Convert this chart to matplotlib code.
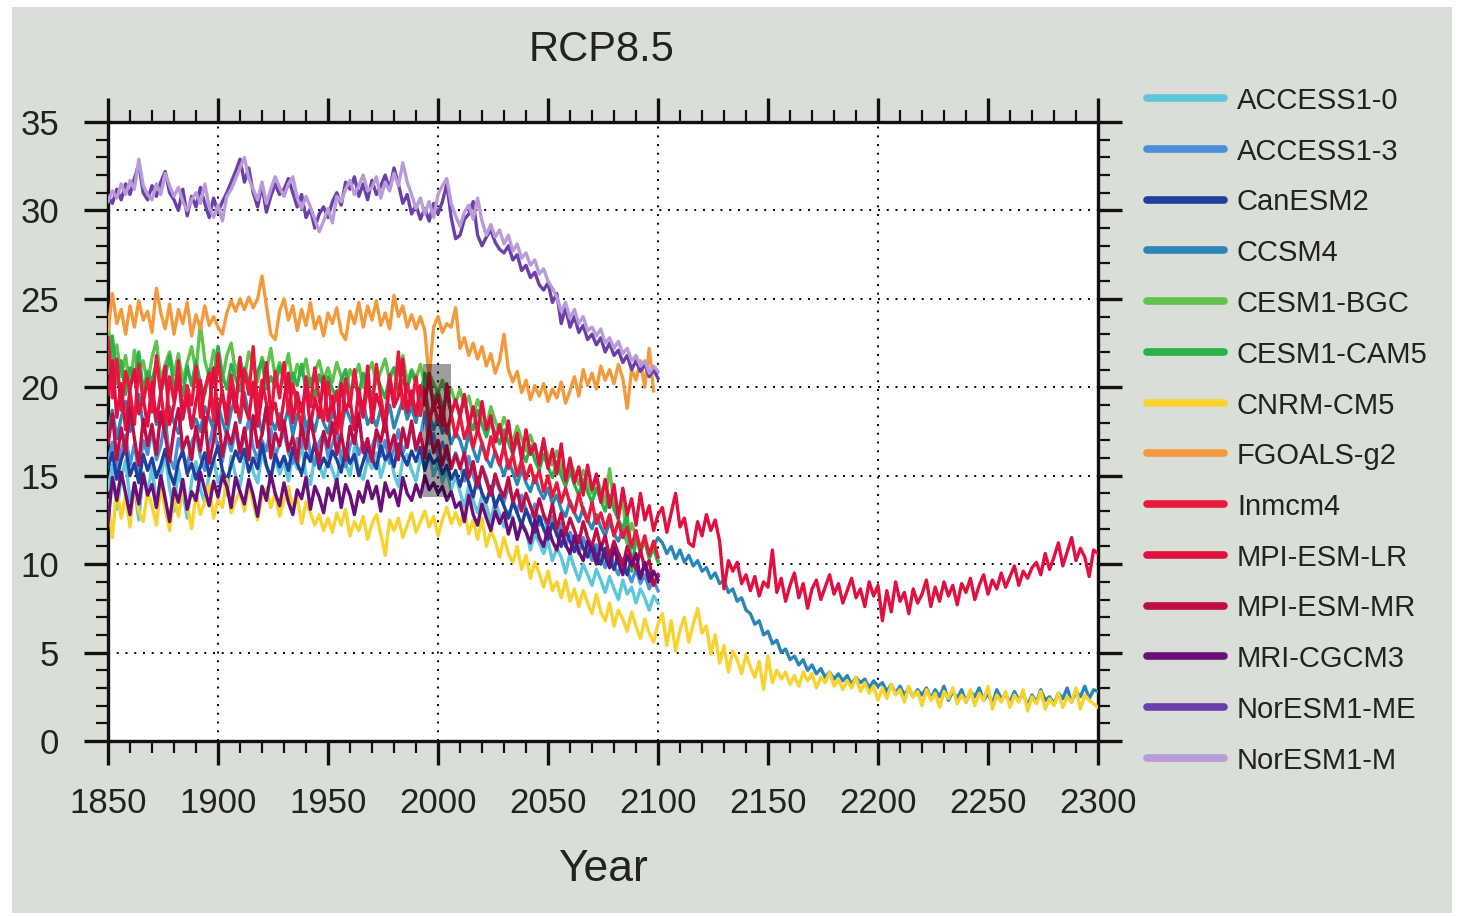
import numpy as np
import matplotlib
matplotlib.use("Agg")
import matplotlib.pyplot as plt
from matplotlib.lines import Line2D
from matplotlib.patches import Rectangle
from matplotlib.ticker import MultipleLocator

plt.rcParams['font.family'] = ['Liberation Sans', 'DejaVu Sans']

# ---------------------------------------------------------------------------
# Data: values every two years, 1850-2100 (126 values); three models extend
# from 2102 to 2300 (100 further values).
# ---------------------------------------------------------------------------
years_hist = np.arange(1850, 2101, 2)
years_ext = np.arange(2102, 2301, 2)

models = ["ACCESS1-0", "ACCESS1-3", "CanESM2", "CCSM4", "CESM1-BGC",
          "CESM1-CAM5", "CNRM-CM5", "FGOALS-g2", "Inmcm4", "MPI-ESM-LR",
          "MPI-ESM-MR", "MRI-CGCM3", "NorESM1-ME", "NorESM1-M"]

colors = ["#5ec6db", "#4a8fd8", "#1f3f9c", "#2b86b8", "#5fc24c",
          "#2bb04a", "#f8d22f", "#f29a3c", "#e8193d", "#e01040",
          "#bf0d46", "#6a0f7a", "#6b3fa9", "#b89bd8"]

access1_0 = [
    14.2, 15.6, 13.1, 14.8, 15.9, 13.6, 14.4, 12.5, 15.2, 14.0,
    15.5, 13.4, 14.9, 16.2, 14.3, 13.0, 15.4, 14.1, 12.6, 14.7,
    15.8, 14.2, 13.5, 15.1, 16.0, 14.6, 15.3, 13.9, 16.1, 15.0,
    14.4, 15.9, 16.6, 15.2, 14.6, 16.3, 15.5, 14.8, 16.0, 15.1,
    15.8, 14.7, 16.2, 15.4, 16.8, 15.0, 14.5, 16.1, 15.6, 14.9,
    16.0, 15.3, 14.6, 16.4, 15.7, 15.0, 16.6, 15.2, 14.8, 15.9,
    15.4, 16.3, 14.9, 15.8, 16.5, 15.1, 14.4, 15.9, 16.2, 15.3,
    14.7, 16.0, 15.5, 16.4, 15.0, 15.8, 14.6, 15.3, 14.2, 15.0,
    14.1, 13.2, 14.5, 13.6, 12.9, 13.9, 13.3, 12.4, 13.6, 12.8,
    12.1, 13.0, 12.6, 11.5, 12.4, 11.9, 10.8, 11.7, 11.2, 10.6,
    11.3, 10.2, 10.9, 10.4, 9.5, 10.6, 9.8, 9.1, 10.0, 9.4,
    8.8, 9.7, 9.1, 8.4, 9.3, 8.6, 8.0, 9.1, 8.3, 8.7,
    7.8, 8.6, 8.1, 7.4, 8.2, 7.8]

access1_3 = [
    15.8, 16.9, 15.2, 16.4, 17.3, 15.6, 16.8, 15.1, 17.0, 16.2,
    17.6, 15.9, 16.7, 18.2, 16.0, 15.4, 17.1, 16.3, 15.5, 16.9,
    17.4, 16.1, 15.3, 16.8, 17.8, 16.5, 15.8, 17.2, 16.4, 17.6,
    16.2, 17.3, 18.1, 16.6, 15.9, 17.0, 16.4, 17.7, 16.1, 16.8,
    17.5, 16.3, 15.7, 17.1, 16.6, 17.9, 16.2, 15.6, 16.9, 17.4,
    16.1, 16.8, 17.5, 16.0, 15.5, 16.7, 17.3, 16.2, 16.9, 15.8,
    16.6, 17.4, 16.1, 17.0, 15.7, 16.5, 17.6, 16.3, 16.9, 17.8,
    16.4, 17.2, 18.6, 16.8, 17.4, 16.1, 16.9, 16.0, 15.6, 16.3,
    15.6, 14.7, 16.1, 15.0, 14.3, 15.5, 14.9, 13.9, 14.8, 14.2,
    13.5, 14.4, 13.7, 12.9, 13.9, 13.1, 12.5, 13.4, 12.2, 12.8,
    11.9, 12.7, 11.6, 12.3, 11.0, 11.8, 11.3, 10.6, 11.5, 10.9,
    10.2, 11.1, 10.5, 9.8, 10.7, 9.9, 9.4, 10.3, 9.6, 9.0,
    9.7, 8.9, 9.4, 8.6, 9.1, 8.5]

canesm2 = [
    15.4, 16.3, 14.8, 15.9, 16.6, 15.0, 15.7, 14.6, 16.2, 15.3,
    16.0, 14.9, 15.6, 16.5, 15.2, 14.5, 15.8, 16.4, 15.1, 15.7,
    14.8, 15.5, 16.3, 15.0, 15.9, 16.7, 15.3, 14.7, 15.6, 16.4,
    15.8, 16.5, 15.2, 16.0, 15.4, 16.8, 15.6, 14.9, 16.2, 15.5,
    16.1, 15.3, 16.6, 15.7, 15.1, 16.3, 15.8, 16.9, 15.4, 16.0,
    15.5, 16.4, 15.9, 15.2, 16.5, 15.7, 16.2, 15.0, 15.8, 16.6,
    16.0, 15.4, 16.7, 15.9, 16.3, 15.5, 16.8, 16.1, 15.6, 16.4,
    15.8, 16.6, 15.3, 16.2, 15.7, 16.0, 15.1, 15.6, 14.8, 15.3,
    14.4, 15.3, 14.6, 13.8, 14.9, 14.0, 13.5, 14.4, 13.2, 13.9,
    13.3, 12.6, 13.5, 12.9, 12.2, 13.1, 12.4, 11.8, 12.7, 12.0,
    11.4, 12.3, 11.7, 11.0, 11.9, 11.3, 10.7, 11.6, 10.9, 10.4,
    11.2, 10.5, 10.0, 10.9, 10.2, 9.7, 10.6, 10.0, 9.4, 10.3,
    9.8, 9.2, 10.0, 9.4, 8.9, 9.3]

ccsm4 = [
    17.6, 18.7, 17.1, 18.3, 19.2, 17.5, 18.4, 19.6, 17.8, 18.1,
    19.5, 17.9, 18.6, 17.2, 18.9, 18.0, 17.4, 18.8, 19.3, 17.7,
    18.2, 17.5, 18.9, 18.3, 17.6, 19.0, 18.1, 17.3, 18.7, 19.4,
    18.0, 19.7, 18.4, 17.8, 18.6, 17.4, 18.9, 18.2, 17.6, 18.5,
    17.9, 18.8, 17.3, 18.4, 19.1, 17.8, 18.3, 17.5, 18.7, 18.0,
    17.4, 18.6, 18.1, 17.7, 18.9, 18.2, 17.6, 18.5, 19.2, 17.9,
    18.4, 17.8, 18.8, 18.1, 19.0, 17.7, 18.5, 19.3, 18.2, 18.9,
    18.0, 19.4, 19.9, 18.5, 17.6, 18.3, 17.4, 17.9, 16.8, 17.5,
    17.0, 16.2, 17.4, 16.5, 15.8, 16.9, 16.0, 15.5, 16.4, 15.7,
    15.0, 15.9, 15.2, 14.5, 15.4, 14.6, 14.1, 15.0, 14.2, 13.7,
    14.3, 13.4, 13.9, 13.1, 12.7, 13.6, 12.9, 12.4, 13.2, 12.5,
    12.0, 12.8, 12.1, 11.6, 12.4, 11.7, 11.3, 12.0, 11.2, 10.9,
    11.6, 10.8, 11.3, 10.5, 11.0, 11.5]

ccsm4_ext = [
    11.2, 10.6, 11.0, 10.3, 10.8, 10.1, 10.5, 9.9, 10.2, 9.6,
    9.8, 9.2, 9.5, 8.9, 9.1, 8.4, 8.6, 7.9, 8.1, 7.4,
    7.2, 6.6, 6.8, 6.0, 6.2, 5.5, 5.7, 5.0, 5.2, 4.6,
    4.8, 4.3, 4.6, 4.0, 4.3, 3.8, 4.1, 3.6, 3.9, 3.5,
    3.8, 3.4, 3.7, 3.2, 3.6, 3.3, 3.5, 3.0, 3.4, 3.1,
    3.3, 2.8, 3.2, 2.7, 3.1, 2.6, 3.0, 2.5, 2.9, 2.6,
    3.0, 2.4, 2.9, 2.5, 3.1, 2.3, 2.8, 2.4, 2.9, 2.2,
    2.8, 2.5, 3.0, 2.3, 2.7, 2.1, 2.9, 2.4, 2.6, 2.2,
    2.8, 2.3, 2.7, 2.0, 2.6, 2.2, 2.9, 2.3, 2.5, 2.1,
    2.7, 2.4, 3.0, 2.2, 2.8, 2.5, 3.1, 2.4, 2.9, 2.8]

cesm1_bgc = [
    23.5, 21.2, 22.4, 20.6, 21.8, 19.9, 22.1, 20.8, 21.5, 20.2,
    21.7, 22.6, 20.4, 21.3, 22.0, 20.7, 21.9, 20.3, 21.4, 22.3,
    20.9, 23.6, 21.5, 20.6, 22.1, 21.0, 20.4, 21.8, 22.5, 20.8,
    21.6, 20.5, 22.0, 21.2, 20.3, 21.7, 20.9, 22.2, 20.6, 21.4,
    20.8, 21.9, 20.2, 21.3, 20.7, 21.6, 20.1, 20.9, 21.5, 20.4,
    21.1, 20.3, 21.4, 20.6, 19.8, 21.0, 20.5, 21.3, 20.0, 20.8,
    21.4, 20.2, 20.9, 21.6, 20.4, 21.1, 20.7, 21.8, 20.3, 21.0,
    20.5, 21.3, 20.1, 20.8, 20.2, 19.7, 20.4, 19.5, 19.9, 19.1,
    19.9, 18.9, 19.5, 18.4, 19.3, 18.6, 17.8, 18.9, 18.1, 17.4,
    18.3, 17.6, 16.9, 17.8, 17.1, 16.4, 17.3, 16.5, 16.0, 16.9,
    16.1, 15.6, 16.4, 15.5, 14.9, 15.8, 15.2, 14.5, 15.3, 14.6,
    14.0, 14.9, 14.2, 13.5, 15.4, 13.4, 12.8, 13.7, 11.2, 12.3,
    11.6, 10.6, 11.4, 10.3, 10.9, 10.1]

cesm1_cam5 = [
    20.8, 22.9, 20.2, 21.5, 19.6, 21.1, 20.4, 22.0, 19.8, 20.9,
    20.3, 21.4, 19.7, 20.6, 21.8, 20.0, 20.7, 19.5, 21.2, 20.1,
    21.5, 20.2, 19.6, 21.0, 20.4, 22.3, 20.7, 19.9, 21.3, 20.5,
    19.8, 21.1, 20.3, 19.6, 20.9, 21.5, 19.9, 20.6, 20.0, 21.2,
    20.4, 19.7, 20.8, 20.1, 21.3, 19.8, 20.5, 19.4, 20.7, 20.0,
    20.6, 19.9, 19.3, 20.4, 21.0, 19.7, 20.3, 19.6, 20.8, 20.1,
    19.5, 20.7, 20.0, 19.4, 20.6, 21.1, 19.8, 20.4, 19.9, 20.9,
    20.2, 19.6, 20.8, 20.0, 19.3, 19.8, 18.9, 19.4, 18.6, 19.1,
    18.5, 19.3, 18.2, 17.6, 18.7, 17.9, 17.2, 18.1, 17.4, 16.8,
    17.6, 16.9, 16.2, 17.1, 16.4, 15.8, 16.7, 15.9, 15.3, 16.2,
    15.5, 14.9, 15.8, 15.0, 14.4, 15.3, 14.5, 13.9, 14.8, 14.1,
    13.5, 14.3, 13.6, 13.0, 13.9, 13.1, 12.5, 12.0, 12.8, 9.6,
    11.5, 10.8, 11.3, 10.4, 10.9, 10.2]

cnrm_cm5 = [
    13.6, 11.5, 14.3, 12.6, 13.9, 12.1, 14.6, 13.0, 12.4, 14.1,
    13.3, 12.2, 14.4, 13.1, 11.9, 13.8, 12.7, 14.2, 13.4, 12.0,
    14.0, 12.8, 13.5, 14.5, 12.6, 13.7, 13.2, 14.8, 12.9, 13.6,
    14.1, 13.0, 14.6, 13.4, 12.5, 13.9, 14.3, 13.2, 14.0, 12.7,
    13.6, 14.4, 13.1, 13.8, 12.3, 13.5, 12.9, 12.2, 12.8, 11.9,
    12.6, 11.8, 12.9, 12.2, 13.1, 11.6, 12.4, 11.9, 12.7, 11.4,
    12.3, 12.8, 11.7, 10.5, 12.5, 11.9, 12.6, 11.5, 12.2, 12.9,
    11.8, 12.4, 13.0, 12.1, 12.7, 11.6, 12.5, 13.2, 12.3, 12.9,
    12.2, 13.1, 11.7, 12.5, 11.4, 12.6, 11.0, 11.9, 11.3, 10.4,
    11.5, 10.6, 10.1, 11.0, 9.7, 10.5, 9.2, 10.1, 9.5, 8.7,
    9.6, 8.5, 9.0, 8.1, 9.1, 7.9, 8.6, 7.6, 8.5, 7.8,
    7.2, 8.3, 7.3, 6.8, 7.8, 6.5, 7.4, 6.9, 6.2, 7.3,
    6.5, 5.8, 6.9, 6.1, 5.6, 6.6]

cnrm_cm5_ext = [
    7.2, 5.4, 6.8, 5.1, 6.3, 7.0, 5.6, 6.6, 7.5, 6.1,
    6.5, 4.9, 6.0, 4.4, 5.4, 3.9, 5.1, 4.6, 3.8, 4.9,
    4.2, 3.6, 4.5, 2.9, 4.8, 3.3, 4.0, 3.5, 3.9, 3.2,
    3.7, 3.1, 3.9, 3.4, 3.8, 3.0, 3.6, 3.3, 3.9, 3.1,
    3.5, 2.9, 3.4, 3.0, 3.6, 2.8, 3.3, 2.7, 3.1, 2.3,
    3.0, 2.4, 3.2, 2.6, 2.9, 2.2, 3.1, 2.5, 2.8, 2.0,
    2.9, 2.3, 2.7, 1.9, 2.8, 2.4, 3.0, 2.1, 2.6, 2.2,
    2.9, 2.0, 2.7, 2.3, 3.1, 1.8, 2.6, 2.2, 2.8, 1.9,
    2.6, 2.2, 2.9, 1.7, 2.5, 2.1, 2.8, 1.8, 2.4, 2.0,
    2.7, 1.9, 2.5, 2.2, 3.0, 1.8, 2.6, 2.3, 2.1, 1.9]

fgoals_g2 = [
    23.2, 25.3, 23.6, 24.4, 23.0, 24.6, 23.4, 24.9, 23.8, 24.3,
    23.1, 25.6, 24.2, 23.3, 24.7, 23.0, 24.4, 23.6, 24.8, 22.9,
    24.1, 23.3, 24.6, 23.5, 24.0, 23.4, 23.0, 24.2, 24.9, 24.3,
    25.0, 24.4, 25.1, 24.5, 25.0, 26.3, 24.6, 23.0, 22.7, 24.3,
    25.0, 23.8, 24.6, 23.2, 24.4, 23.5, 24.8, 23.3, 24.0, 22.9,
    24.2, 23.6, 24.5, 23.1, 22.7, 24.3, 23.6, 24.8, 23.4, 24.6,
    23.8, 24.9, 23.5, 24.2, 23.3, 25.2, 24.0, 24.6, 23.4, 24.1,
    23.3, 24.0, 23.2, 20.5, 23.4, 24.0, 23.1, 23.6, 23.4, 24.5,
    22.2, 22.8, 21.8, 22.5, 21.6, 22.3, 21.2, 21.9, 20.8, 21.5,
    23.0, 21.0, 20.3, 20.9, 19.7, 20.4, 19.3, 20.1, 19.5, 20.2,
    19.2, 19.9, 19.4, 20.3, 19.1, 19.8, 20.6, 19.5, 21.0, 20.1,
    20.8, 19.9, 21.2, 20.4, 21.0, 20.2, 21.3, 20.5, 18.8, 21.0,
    20.4, 21.5, 20.0, 22.2, 19.8, np.nan]

inmcm4 = [
    22.8, 19.4, 21.6, 18.7, 20.9, 19.8, 17.9, 21.3, 19.1, 20.5,
    18.6, 21.8, 19.7, 17.8, 20.6, 19.2, 21.5, 18.4, 20.1, 19.0,
    21.2, 18.3, 19.9, 20.8, 18.1, 21.9, 19.5, 18.6, 20.7, 19.3,
    18.2, 21.0, 19.6, 22.3, 18.8, 20.4, 19.1, 17.9, 20.9, 19.4,
    21.4, 18.5, 20.2, 19.0, 17.6, 20.6, 18.9, 21.1, 19.3, 18.1,
    20.3, 18.7, 19.8, 17.5, 20.5, 18.9, 21.0, 19.2, 18.3, 20.1,
    18.6, 21.3, 19.4, 18.0, 20.7, 19.1, 22.0, 18.8, 20.2, 19.0,
    20.6, 18.4, 19.8, 17.9, 19.2, 18.0, 18.9, 17.4, 18.5, 17.2,
    18.4, 17.1, 17.9, 16.6, 17.6, 16.8, 15.9, 17.2, 16.3, 15.6,
    16.7, 15.4, 16.2, 15.0, 15.9, 14.8, 15.6, 14.6, 15.3, 14.1,
    15.0, 13.8, 14.6, 13.5, 14.3, 13.4, 12.9, 14.0, 13.0, 12.4,
    13.5, 12.3, 12.9, 12.0, 12.8, 11.6, 12.4, 11.5, 12.1, 11.0,
    11.9, 10.8, 11.6, 10.5, 11.3, 10.4]

mpi_esm_lr = [
    19.6, 21.5, 18.3, 20.2, 17.6, 19.9, 21.0, 18.5, 19.4, 17.8,
    20.3, 18.1, 19.7, 21.2, 17.9, 19.0, 20.6, 18.2, 19.5, 17.7,
    19.2, 20.4, 17.5, 18.9, 21.1, 18.4, 19.8, 17.9, 20.0, 18.6,
    21.7, 19.0, 18.2, 20.3, 17.8, 19.6, 21.4, 18.5, 19.1, 17.6,
    19.3, 20.8, 18.0, 19.7, 18.6, 20.1, 17.7, 19.4, 18.3, 20.6,
    18.1, 19.5, 17.4, 20.2, 18.7, 19.3, 17.6, 19.9, 18.4, 21.2,
    18.0, 19.6, 18.8, 17.5, 20.4, 18.9, 19.5, 21.6, 18.6, 19.8,
    18.4, 20.1, 19.0, 20.8, 18.7, 19.6, 17.8, 20.2, 18.5, 19.3,
    18.3, 19.6, 17.8, 18.9, 17.4, 19.2, 17.6, 18.4, 16.9, 17.9,
    16.6, 18.1, 16.3, 17.4, 15.9, 17.6, 16.2, 16.8, 15.6, 17.1,
    15.4, 16.5, 15.1, 16.8, 14.7, 16.0, 14.6, 15.5, 13.9, 15.6,
    14.2, 15.1, 13.5, 14.8, 13.2, 14.5, 12.6, 14.3, 12.8, 13.7,
    12.2, 14.0, 12.5, 13.3, 11.9, 12.8]

mpi_esm_lr_ext = [
    13.2, 11.8, 12.9, 14.0, 12.1, 12.6, 11.2, 11.0, 12.4, 11.6,
    12.8, 11.9, 12.5, 11.3, 8.6, 10.2, 9.6, 10.1, 8.9, 9.4,
    8.5, 9.3, 8.2, 9.0, 8.7, 10.8, 8.4, 9.2, 7.9, 8.8,
    9.5, 8.1, 8.9, 7.5, 8.6, 9.1, 8.0, 8.7, 9.4, 8.3,
    8.9, 7.8, 8.5, 9.2, 8.1, 8.6, 7.6, 9.0, 8.2, 8.8,
    6.8, 8.5, 7.3, 9.0, 7.9, 8.4, 7.2, 8.6, 7.8, 8.3,
    9.1, 7.6, 8.7, 7.9, 9.0, 8.2, 8.8, 7.7, 8.9, 8.4,
    9.2, 8.0, 8.8, 9.4, 8.3, 9.1, 8.6, 9.5, 8.7, 9.3,
    9.9, 8.8, 9.6, 9.2, 9.8, 10.1, 9.4, 10.6, 9.7, 10.4,
    11.2, 9.9, 10.7, 11.5, 10.2, 10.9, 10.4, 9.3, 10.8, 10.6]

mpi_esm_mr = [
    16.8, 18.5, 15.9, 17.7, 16.3, 18.9, 17.1, 15.6, 18.2, 16.7,
    17.9, 16.2, 18.6, 17.3, 15.8, 17.6, 18.8, 16.5, 17.2, 15.9,
    17.8, 16.4, 18.3, 15.7, 17.0, 18.6, 16.1, 17.5, 16.8, 18.0,
    16.3, 17.7, 15.9, 18.4, 16.6, 17.3, 18.9, 16.0, 17.4, 16.7,
    18.1, 16.4, 17.2, 15.8, 17.9, 16.5, 18.3, 16.9, 15.7, 17.5,
    16.6, 18.0, 16.2, 17.4, 15.9, 17.8, 16.8, 18.5, 16.3, 17.1,
    15.8, 17.6, 16.9, 18.2, 16.4, 17.3, 15.9, 17.7, 16.6, 18.1,
    16.5, 17.4, 16.0, 17.9, 16.3, 17.0, 15.6, 16.7, 15.4, 16.2,
    15.4, 16.3, 14.9, 15.8, 14.4, 15.5, 14.7, 13.9, 15.1, 14.3,
    13.8, 14.9, 13.5, 14.2, 13.0, 14.0, 13.3, 12.6, 13.7, 12.8,
    12.3, 13.4, 12.0, 12.9, 11.7, 12.6, 11.9, 11.2, 12.4, 11.5,
    11.0, 12.0, 10.9, 11.6, 10.4, 11.3, 10.6, 9.9, 11.0, 10.3,
    9.7, 10.8, 9.8, 10.2, 8.8, 9.4]

mri_cgcm3 = [
    12.3, 14.9, 13.6, 15.2, 14.0, 12.8, 14.6, 13.4, 15.1, 13.9,
    14.5, 13.2, 15.0, 13.7, 12.4, 14.3, 13.5, 14.8, 13.1, 14.1,
    13.6, 15.2, 14.2, 13.3, 14.7, 13.8, 15.0, 14.4, 13.2, 14.9,
    14.1, 13.4, 14.8, 13.9, 12.7, 14.4, 13.6, 15.1, 14.0, 13.3,
    14.6, 13.5, 12.8, 14.2, 13.7, 14.9, 13.1, 14.4, 13.8, 12.9,
    14.3, 13.6, 14.8, 13.2, 14.5, 13.9, 12.8, 14.1, 13.5, 14.7,
    13.7, 14.4, 13.0, 14.6, 13.8, 14.2, 13.3, 14.9, 14.0, 13.6,
    14.5, 13.8, 15.0, 14.2, 14.6, 14.0, 14.4, 13.6, 14.1, 13.2,
    13.5, 12.4, 13.9, 12.8, 12.2, 13.4, 12.6, 11.9, 13.0, 12.3,
    12.9, 11.7, 12.6, 11.4, 12.3, 11.8, 11.2, 12.5, 11.5, 11.0,
    12.1, 11.3, 10.8, 11.9, 11.1, 10.6, 11.6, 10.7, 10.2, 11.3,
    10.8, 10.0, 11.1, 10.4, 9.8, 10.9, 10.1, 9.4, 10.5, 9.9,
    10.6, 9.2, 10.1, 9.0, 9.6, 9.1]

noresm1_me = [
    30.8, 30.4, 31.2, 30.6, 31.5, 30.9, 31.8, 32.6, 31.0, 30.6,
    31.4, 30.8, 31.6, 32.2, 31.0, 30.6, 30.0, 31.2, 29.7, 30.8,
    30.2, 31.3, 30.4, 29.6, 30.7, 29.9, 30.5, 31.0, 31.6, 32.2,
    32.9, 31.6, 32.4, 31.0, 30.2, 31.4, 29.9, 30.8, 31.5, 30.9,
    31.2, 31.8, 31.0, 30.2, 30.9, 29.6, 30.1, 29.0, 29.8, 30.2,
    29.6, 30.5, 31.0, 30.3, 31.6, 31.2, 31.9, 30.8, 31.5, 30.6,
    31.7, 30.9, 31.4, 32.0, 31.2, 32.4, 31.5, 30.4, 30.9, 29.8,
    30.3, 29.5, 30.1, 29.4, 30.4, 29.8, 30.5, 31.5, 29.6, 28.4,
    28.6, 29.5, 29.8, 30.5, 28.6, 28.0, 28.5, 28.9, 28.2, 27.8,
    27.6, 28.0, 27.2, 27.5, 26.6, 26.9, 26.2, 26.5, 25.8, 25.5,
    25.9, 24.8, 25.3, 23.6, 24.5, 23.4, 24.0, 23.1, 23.5, 22.7,
    23.0, 22.4, 22.8, 22.0, 22.5, 21.8, 22.1, 21.4, 21.8, 21.0,
    21.5, 20.9, 21.3, 20.6, 21.0, 20.5]

noresm1_m = [
    30.5, 31.1, 30.7, 31.5, 30.9, 31.7, 31.2, 32.9, 31.4, 30.9,
    30.6, 31.5, 30.9, 32.1, 31.4, 30.8, 31.3, 30.5, 30.0, 30.6,
    31.0, 30.4, 31.5, 30.2, 29.6, 30.3, 29.4, 30.8, 31.2, 31.8,
    32.4, 33.0, 31.8, 31.2, 30.6, 31.6, 30.4, 31.2, 31.9, 31.3,
    30.8, 31.5, 31.9, 30.7, 30.1, 30.8, 30.2, 29.5, 28.8, 29.4,
    30.1, 29.3, 30.8, 30.5, 31.2, 31.7, 30.9, 31.4, 32.0, 31.1,
    31.3, 31.9, 30.7, 31.6, 31.1, 32.1, 31.4, 32.7, 31.6, 30.9,
    30.1, 30.7, 29.8, 30.5, 29.6, 30.9, 31.4, 31.8, 30.4, 29.7,
    29.1, 29.9, 30.3, 29.5, 30.7, 29.4, 28.6, 29.2, 28.5, 28.9,
    28.1, 28.6, 27.7, 28.1, 27.3, 27.6, 26.9, 27.2, 26.4, 26.7,
    26.0, 25.6, 25.1, 24.3, 24.8, 23.9, 24.4, 23.6, 24.0, 23.2,
    23.4, 22.9, 23.3, 22.5, 22.8, 22.2, 22.6, 21.9, 22.2, 21.5,
    21.8, 21.2, 21.5, 20.8, 21.2, 20.9]

hist_values = [access1_0, access1_3, canesm2, ccsm4, cesm1_bgc, cesm1_cam5,
               cnrm_cm5, fgoals_g2, inmcm4, mpi_esm_lr, mpi_esm_mr,
               mri_cgcm3, noresm1_me, noresm1_m]
ext_values = {"CCSM4": ccsm4_ext, "CNRM-CM5": cnrm_cm5_ext,
              "MPI-ESM-LR": mpi_esm_lr_ext}

# Reference period highlighted with a grey box
box_years = (1993, 2006)
box_range = (13.8, 21.3)

# ---------------------------------------------------------------------------
W, H = 1457, 916
fig = plt.figure(figsize=(W / 100, H / 100), dpi=100)
fig.patch.set_facecolor("white")
fig.add_artist(Rectangle((12 / W, 3 / H), 1440 / W, 906 / H,
                         transform=fig.transFigure, facecolor="#d9ded6",
                         edgecolor="none", zorder=0))

ax = fig.add_axes([108 / W, 1 - 741 / H, 990 / W, 619 / H])
ax.set_facecolor("white")

for name, col, vals in zip(models, colors, hist_values):
    x = years_hist
    y = np.asarray(vals, dtype=float)
    if name in ext_values:
        x = np.concatenate([years_hist, years_ext])
        y = np.concatenate([y, ext_values[name]])
    ax.plot(x, y, color=col, lw=2.4, solid_joinstyle="round", zorder=3)

ax.add_patch(Rectangle((box_years[0], box_range[0]),
                       box_years[1] - box_years[0], box_range[1] - box_range[0],
                       facecolor="black", alpha=0.38, edgecolor="none",
                       zorder=4))

# dotted grid
dot = (0, (1, 3.5))
for gx in [1900, 2000, 2100, 2200]:
    ax.axvline(gx, color="black", lw=1.4, ls=dot, zorder=2)
for gy in [5, 10, 15, 20, 25, 30]:
    ax.axhline(gy, color="black", lw=1.4, ls=dot, zorder=2)

ax.set_xlim(1850, 2300)
ax.set_ylim(0, 35)
ax.xaxis.set_major_locator(MultipleLocator(50))
ax.xaxis.set_minor_locator(MultipleLocator(10))
ax.yaxis.set_major_locator(MultipleLocator(5))
ax.yaxis.set_minor_locator(MultipleLocator(1))
for sp in ax.spines.values():
    sp.set_linewidth(2.4)
    sp.set_color("#111111")
ax.tick_params(which="both", direction="out", top=True, right=True,
               color="#111111")
ax.tick_params(which="major", length=17, width=2.4, labelsize=25,
               labelcolor="#222222")
ax.tick_params(which="minor", length=8.5, width=1.6)
ax.tick_params(axis="x", which="major", pad=16)
ax.tick_params(axis="y", which="major", pad=18)

ax.set_xlabel("Year", fontsize=32, color="#222222", labelpad=21)
fig.text(602 / W, 1 - 50 / H, "RCP8.5", fontsize=30, color="#222222",
         ha="center", va="center")

# legend drawn in figure pixel positions
for i, (name, col) in enumerate(zip(models, colors)):
    yc = 1 - (98 + i * 50.75) / H
    fig.add_artist(Line2D([1147 / W, 1224 / W], [yc, yc],
                          transform=fig.transFigure, color=col, lw=5.5,
                          solid_capstyle="round"))
    fig.text(1237 / W, yc - 3 / H, name, fontsize=21, color="#222222",
             ha="left", va="center")

fig.savefig("out.png", dpi=100, facecolor=fig.get_facecolor())
